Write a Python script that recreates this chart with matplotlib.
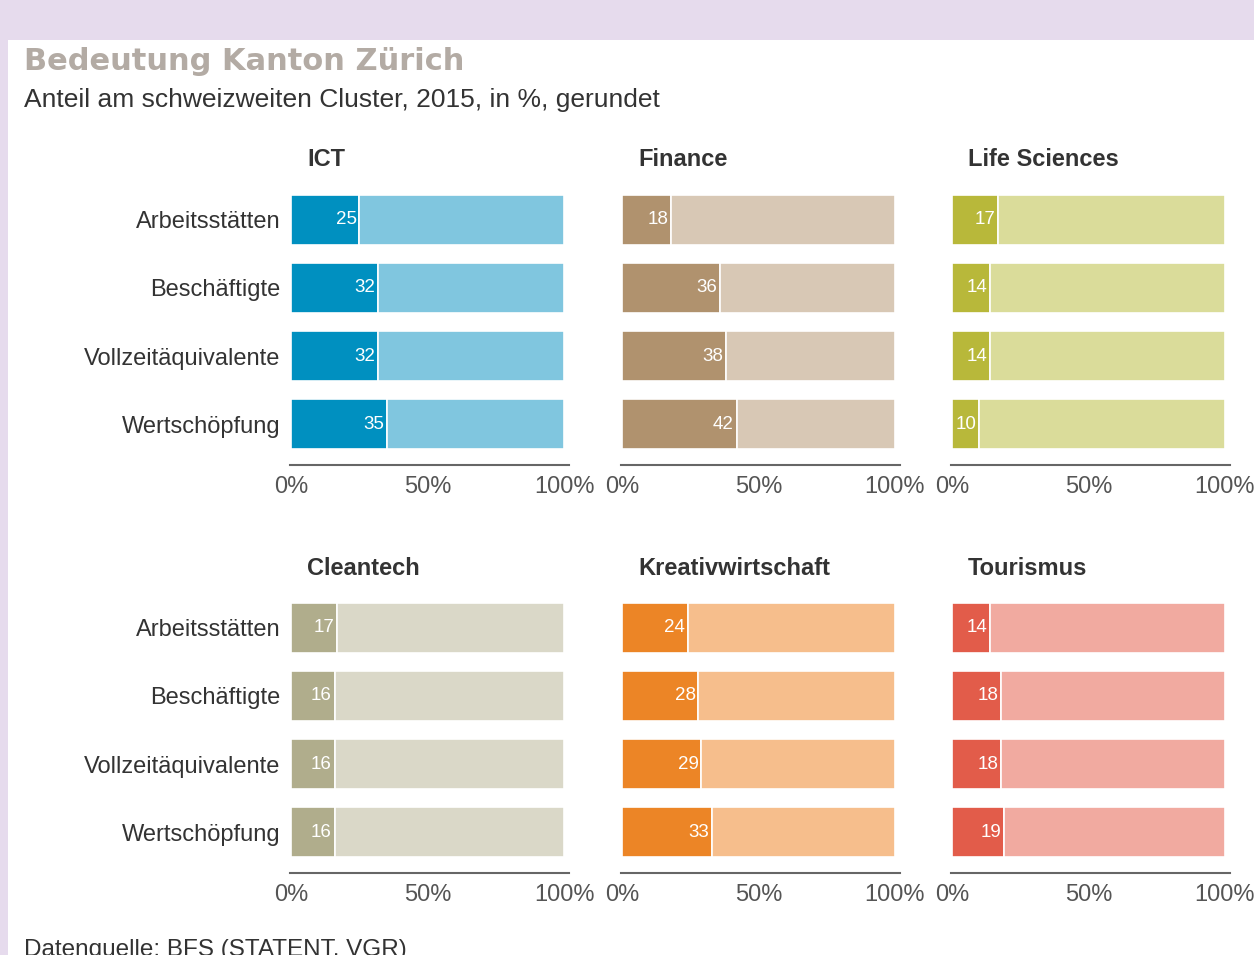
import matplotlib.pyplot as plt
from matplotlib.patches import Rectangle

# Daten
kategorien = ["Arbeitsstätten", "Beschäftigte", "Vollzeitäquivalente", "Wertschöpfung"]
cluster = ["ICT", "Finance", "Life Sciences", "Cleantech", "Kreativwirtschaft", "Tourismus"]
ict = [25, 32, 32, 35]
finance = [18, 36, 38, 42]
life_sciences = [17, 14, 14, 10]
cleantech = [17, 16, 16, 16]
kreativ = [24, 28, 29, 33]
tourismus = [14, 18, 18, 19]
werte = [ict, finance, life_sciences, cleantech, kreativ, tourismus]

farben_dunkel = ["#0090c0", "#b0926e", "#b8b83a", "#b0ad8c", "#ec8526", "#e25c4a"]
farben_hell = ["#80c6df", "#d8c8b5", "#dadc9a", "#dad8c8", "#f6be8c", "#f1aaa0"]

plt.rcParams['font.family'] = ['Liberation Sans', 'DejaVu Sans']

W, H = 1254, 955
fig = plt.figure(figsize=(W / 100, H / 100), dpi=100)
fig.patch.set_facecolor("#e6dbed")
# weisses Feld
fig.add_artist(Rectangle((8 / W, 0), 1 - 8 / W, 1 - 40 / H, transform=fig.transFigure,
                         facecolor="white", edgecolor="none", zorder=0))

fig.text(24 / W, 1 - 61 / H, "Bedeutung Kanton Zürich", fontsize=22, fontweight="bold",
         family="DejaVu Sans", color="#b3aba4", va="center", ha="left")
fig.text(24 / W, 1 - 100 / H, "Anteil am schweizweiten Cluster, 2015, in %, gerundet",
         fontsize=19, color="#333333", va="center", ha="left")
# Quelle (im Original unten angeschnitten)
fig.text(24 / W, 1 - 939 / H, "Datenquelle: BFS (STATENT, VGR)", fontsize=17.5,
         color="#333333", va="top", ha="left")

spalten_x = [291, 622, 952]
zeilen_oben = [179, 587]
breite = 273 * 102 / 100
hoehe = 286

for i, name in enumerate(cluster):
    zeile, spalte = divmod(i, 3)
    links = spalten_x[spalte] - 0.3 * 2.73
    ax = fig.add_axes([links / W, 1 - (zeilen_oben[zeile] + hoehe) / H,
                       (breite + 0.3 * 2.73) / W, hoehe / H])
    ax.set_facecolor("none")
    y = range(len(kategorien))
    v = werte[i]
    ax.barh(y, v, height=0.74, color=farben_dunkel[i], edgecolor="white", linewidth=1.2)
    ax.barh(y, [100 - x for x in v], left=v, height=0.74, color=farben_hell[i],
            edgecolor="white", linewidth=1.2)
    for yy, x in zip(y, v):
        ax.text(x - 1.0, yy, str(x), color="white", fontsize=13.5, ha="right", va="center")
    ax.set_xlim(-0.3, 102)
    ax.set_ylim(3.6, -0.6)
    for s in ["top", "right", "left"]:
        ax.spines[s].set_visible(False)
    ax.spines["bottom"].set_color("#666666")
    ax.spines["bottom"].set_linewidth(1.5)
    ax.set_xticks([0, 50, 100])
    ax.set_xticklabels(["0%", "50%", "100%"])
    ax.tick_params(axis="x", length=0, labelsize=17, labelcolor="#555555", pad=8)
    if spalte == 0:
        ax.set_yticks(list(y))
        ax.set_yticklabels(kategorien)
        ax.tick_params(axis="y", length=0, labelsize=17, labelcolor="#333333", pad=7)
    else:
        ax.set_yticks([])
    ax.set_title(name, loc="left", fontsize=17, fontweight="bold", color="#333333",
                 x=0.06, pad=9)

plt.savefig("out.png", dpi=100)
